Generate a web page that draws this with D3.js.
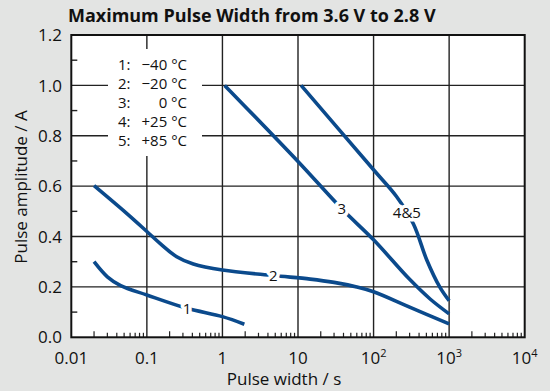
<!DOCTYPE html>
<html><head><meta charset="utf-8">
<script src="https://cdn.jsdelivr.net/npm/d3@7"></script>
<style>
html,body{margin:0;padding:0;background:#e3e4e3;}
svg{display:block;font-family:"Open Sans",sans-serif;}
</style></head><body>
<svg id="c" width="550" height="391"></svg>
<script>
const title = "Maximum Pulse Width from 3.6 V to 2.8 V";
const xLabel = "Pulse width / s";
const yLabel = "Pulse amplitude / A";
const xTicks = [0.01, 0.1, 1, 10, 100, 1000, 10000];
const xTickText = [["0.01",""],["0.1",""],["1",""],["10",""],["10","2"],["10","3"],["10","4"]];
const yTicks = [0, 0.2, 0.4, 0.6, 0.8, 1.0, 1.2];
const yMinor = [0.1, 0.3, 0.5, 0.7, 0.9, 1.1];
const legendNums = ["1:", "2:", "3:", "4:", "5:"];
const legendTemps = ["\u221240 °C", "\u221220 °C", "0 °C", "+25 °C", "+85 °C"];

const curve1 = [[0.02,0.3],[0.03,0.24],[0.045,0.205],[0.1,0.168],[0.34,0.115],[1,0.082],[1.95,0.052]];
const curve2 = [[0.02,0.602],[0.054,0.492],[0.1,0.42],[0.149,0.373],[0.248,0.32],[0.412,0.291],[1,0.267],[4.7,0.245],[14.5,0.231],[30,0.218],[60,0.2],[100,0.181],[300,0.12],[1000,0.053]];
const curve3 = [[1.07,1.0],[10,0.698],[38,0.51],[100,0.387],[300,0.23],[560,0.152],[1000,0.093]];
const curve45 = [[11,1.0],[100,0.665],[200,0.56],[337,0.45],[506,0.307],[750,0.2],[1000,0.145]];
const curveLabels = [["1",0.34,0.115],["2",4.7,0.245],["3",38,0.51],["4&5",276,0.495]];

const svg = d3.select("#c");
const L=71.3,R=524.7,T=35,B=337.3;
const x = d3.scaleLog().domain([0.01,10000]).range([L,R]);
const y = d3.scaleLinear().domain([0,1.2]).range([B,T]);

svg.append("rect").attr("x",L).attr("y",T).attr("width",R-L).attr("height",B-T).attr("fill","#fff");

const grid = svg.append("g").attr("stroke","#222").attr("stroke-width",1.4);
xTicks.slice(1,-1).forEach(v=>grid.append("line").attr("x1",x(v)).attr("x2",x(v)).attr("y1",T).attr("y2",B));
yTicks.slice(1,-1).forEach(v=>grid.append("line").attr("x1",L).attr("x2",R).attr("y1",y(v)).attr("y2",y(v)));
yMinor.forEach(v=>grid.append("line").attr("x1",L).attr("x2",L+6).attr("y1",y(v)).attr("y2",y(v)));
for(let d=0.01; d<10000; d*=10){
  for(let k=2;k<=9;k++){
    const v=d*k;
    grid.append("line").attr("x1",x(v)).attr("x2",x(v)).attr("y1",B).attr("y2",B-(k===2?6:4.5)).attr("stroke-width",1.2);
  }
}

// legend box
svg.append("rect").attr("x",108).attr("y",49).attr("width",94).attr("height",107).attr("fill","#fff");
const lg = svg.append("g").attr("font-size",15).attr("fill","#111");
legendNums.forEach((t,i)=>{
  lg.append("text").attr("x",118).attr("y",70+i*19).text(t);
  lg.append("text").attr("x",187).attr("y",70+i*19).attr("text-anchor","end").text(legendTemps[i]);
});

const line = d3.line().x(d=>x(d[0])).y(d=>y(d[1])).curve(d3.curveCatmullRom.alpha(0.5));
[curve1,curve2,curve3,curve45].forEach(c=>{
  svg.append("path").attr("d",line(c)).attr("fill","none").attr("stroke","#0b4a8c").attr("stroke-width",3.6).attr("stroke-linecap","butt");
});
curveLabels.forEach(([t,a,b])=>{
  svg.append("text").attr("x",x(a)).attr("y",y(b)).attr("dy","0.35em").attr("text-anchor","middle")
    .attr("font-size",15).attr("fill","#111").attr("stroke","#fff").attr("stroke-width",7)
    .attr("paint-order","stroke").attr("stroke-linejoin","round").text(t);
});

svg.append("rect").attr("x",L).attr("y",T).attr("width",R-L).attr("height",B-T).attr("fill","none").attr("stroke","#111").attr("stroke-width",2);

// axis labels
const yl = svg.append("g").attr("font-size",17).attr("fill","#111");
yTicks.forEach(v=>yl.append("text").attr("x",62).attr("y",y(v)).attr("dy","0.36em").attr("text-anchor","end").text(v.toFixed(1)));
xTicks.forEach((v,i)=>{
  const t = yl.append("text").attr("x",x(v)).attr("y",364).attr("text-anchor","middle");
  t.append("tspan").text(xTickText[i][0]);
  if(xTickText[i][1]) t.append("tspan").attr("font-size",11).attr("dy",-7).text(xTickText[i][1]);
});
svg.append("text").attr("x",284).attr("y",385).attr("text-anchor","middle").attr("font-size",17).attr("fill","#111").text(xLabel);
svg.append("text").attr("transform","translate(27,187) rotate(-90)").attr("text-anchor","middle").attr("font-size",17).attr("fill","#111").text(yLabel);
const tt = svg.append("text").attr("x",68).attr("y",22).attr("font-size",19).attr("font-weight","bold").attr("fill","#111").text(title);
const w = tt.node().getComputedTextLength();
if (w > 0) tt.attr("font-size", 19*368/w);
</script>
</body></html>
